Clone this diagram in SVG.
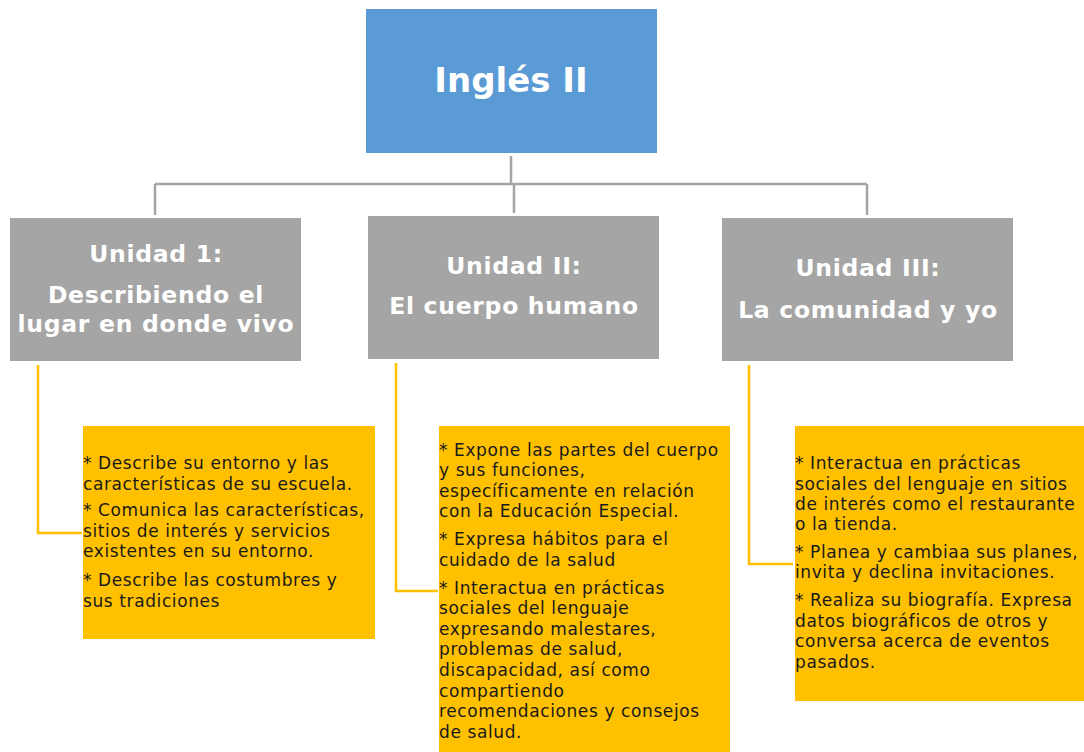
<svg xmlns="http://www.w3.org/2000/svg" width="1084" height="752" viewBox="0 0 1084 752">
<style>
.title{fill:#5B9BD5}
.unit{fill:#A5A5A5}
.note{fill:#FFC000}
.tt{font-family:"DejaVu Sans",sans-serif;font-weight:bold;fill:#fff;text-anchor:middle}
.ut{font-size:23.5px;letter-spacing:0.7px}
.bt{font-family:"DejaVu Sans",sans-serif;font-size:17px;letter-spacing:0.6px;fill:#1a1a1a}
.gc{stroke:#A5A5A5;stroke-width:2.5;fill:none}
.yc{stroke:#FFC000;stroke-width:2.5;fill:none}
</style>
<rect width="1084" height="752" fill="#fff"/>
<g id="connectors">
<path class="gc" d="M511 156V184M155 184H867M155 184V215M514 184V213M867 184V215"/>
<path class="yc" d="M38 365V533H82"/>
<path class="yc" d="M396 363V591H438"/>
<path class="yc" d="M749 365V564H793"/>
</g>
<g id="root">
<rect class="title" x="366" y="9" width="291" height="144"/>
<text class="tt" x="511" y="92" font-size="34">Inglés II</text>
</g>
<g id="unit1">
<rect class="unit" x="10" y="218" width="291" height="143"/>
<text class="tt ut" x="156" y="262">Unidad 1:</text>
<text class="tt ut" x="156" y="303">Describiendo el</text>
<text class="tt ut" x="156" y="332">lugar en donde vivo</text>
</g>
<g id="unit2">
<rect class="unit" x="368" y="216" width="291" height="143"/>
<text class="tt ut" x="514" y="274">Unidad II:</text>
<text class="tt ut" x="514" y="314">El cuerpo humano</text>
</g>
<g id="unit3">
<rect class="unit" x="722" y="218" width="291" height="143"/>
<text class="tt ut" x="868" y="276">Unidad III:</text>
<text class="tt ut" x="868" y="318">La comunidad y yo</text>
</g>
<g id="note1">
<rect class="note" x="83" y="426" width="292" height="213"/>
<text class="bt" x="83" y="469">* Describe su entorno y las</text>
<text class="bt" x="83" y="490">características de su escuela.</text>
<text class="bt" x="83" y="516">* Comunica las características,</text>
<text class="bt" x="83" y="537">sitios de interés y servicios</text>
<text class="bt" x="83" y="557">existentes en su entorno.</text>
<text class="bt" x="83" y="586">* Describe las costumbres y</text>
<text class="bt" x="83" y="607">sus tradiciones</text>
</g>
<g id="note2">
<rect class="note" x="439" y="426" width="291" height="326"/>
<text class="bt" x="439" y="456">* Expone las partes del cuerpo</text>
<text class="bt" x="439" y="476">y sus funciones,</text>
<text class="bt" x="439" y="497">específicamente en relación</text>
<text class="bt" x="439" y="517">con la Educación Especial.</text>
<text class="bt" x="439" y="545">* Expresa hábitos para el</text>
<text class="bt" x="439" y="566">cuidado de la salud</text>
<text class="bt" x="439" y="594">* Interactua en prácticas</text>
<text class="bt" x="439" y="614">sociales del lenguaje</text>
<text class="bt" x="439" y="635">expresando malestares,</text>
<text class="bt" x="439" y="655">problemas de salud,</text>
<text class="bt" x="439" y="676">discapacidad, así como</text>
<text class="bt" x="439" y="697">compartiendo</text>
<text class="bt" x="439" y="717">recomendaciones y consejos</text>
<text class="bt" x="439" y="738">de salud.</text>
</g>
<g id="note3">
<rect class="note" x="795" y="426" width="289" height="275"/>
<text class="bt" x="795" y="469">* Interactua en prácticas</text>
<text class="bt" x="795" y="490">sociales del lenguaje en sitios</text>
<text class="bt" x="795" y="510">de interés como el restaurante</text>
<text class="bt" x="795" y="530">o la tienda.</text>
<text class="bt" x="795" y="558">* Planea y cambiaa sus planes,</text>
<text class="bt" x="795" y="578">invita y declina invitaciones.</text>
<text class="bt" x="795" y="606">* Realiza su biografía. Expresa</text>
<text class="bt" x="795" y="627">datos biográficos de otros y</text>
<text class="bt" x="795" y="647">conversa acerca de eventos</text>
<text class="bt" x="795" y="668">pasados.</text>
</g>
</svg>
